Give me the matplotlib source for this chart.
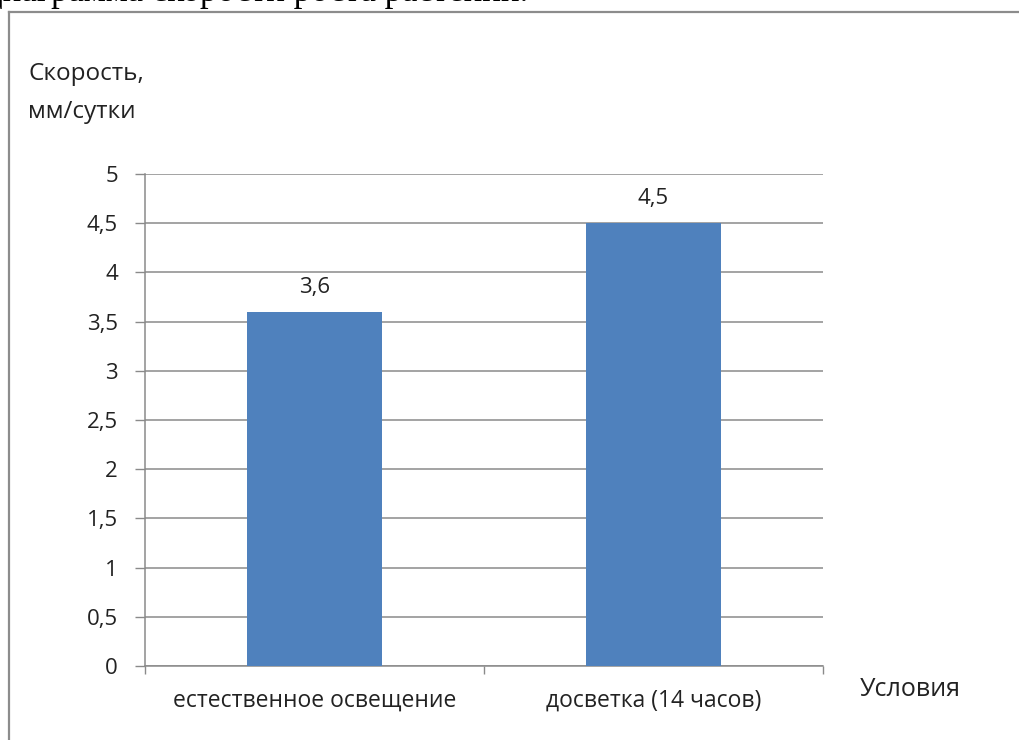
import matplotlib.pyplot as plt
from matplotlib.lines import Line2D

# growth speed of plants under two lighting conditions
conditions = ['естественное освещение', 'досветка (14 часов)']
speed = [3.6, 4.5]
yticks = [0, 0.5, 1, 1.5, 2, 2.5, 3, 3.5, 4, 4.5, 5]

plt.rcParams['font.family'] = ['Open Sans', 'DejaVu Sans']
txt = '#222222'
grid = '#8a8a8a'
bar_color = '#4f81bd'

W, H = 1019, 740
fig = plt.figure(figsize=(W / 100, H / 100), dpi=100)

# page heading, mostly off the top edge
fig.text(528 / W, 1 - 1 / H, 'Диаграмма скорости роста растений.',
         family=['Liberation Serif', 'DejaVu Serif'], fontsize=25,
         ha='right', va='baseline', color='black')

# frame around the chart
fig.add_artist(Line2D([8.5 / W, 8.5 / W], [0, 1 - 11.5 / H], transform=fig.transFigure,
                      color='#8c8c8c', lw=1.6))
fig.add_artist(Line2D([8.5 / W, 1], [1 - 11.5 / H, 1 - 11.5 / H], transform=fig.transFigure,
                      color='#8c8c8c', lw=1.6))

ax = fig.add_axes([145 / W, 74 / H, 678 / W, 492 / H])
x = list(range(len(conditions)))
bars = ax.bar(x, speed, width=0.4, color=bar_color, zorder=3)
ax.bar_label(bars, labels=[str(v).replace('.', ',') for v in speed],
             padding=10, fontsize=16, color=txt)

ax.set_xlim(-0.5, len(conditions) - 0.5)
ax.set_ylim(0, 5)
ax.set_yticks(yticks)
ax.set_yticklabels([('%g' % t).replace('.', ',') for t in yticks])
ax.yaxis.grid(True, color=grid, lw=1.1, zorder=0)
ax.tick_params(axis='y', length=7.5, width=1, color=grid, pad=12,
               labelsize=16, labelcolor=txt)

ax.set_xticks(x)
ax.set_xticklabels(conditions)
ax.set_xticks([-0.5, 0.5, 1.5], minor=True)
ax.tick_params(axis='x', which='major', length=0, pad=16, labelsize=16.5, labelcolor=txt)
ax.tick_params(axis='x', which='minor', length=5.5, width=1, color=grid)

for s in ['top', 'right']:
    ax.spines[s].set_visible(False)
for s in ['left', 'bottom']:
    ax.spines[s].set_color(grid)
    ax.spines[s].set_linewidth(1.1)

fig.text(28 / W, 1 - 62 / H, 'Скорость,\nмм/сутки', fontsize=17.5, color=txt,
         ha='left', va='top', linespacing=1.8)
fig.text(860 / W, 1 - 690 / H, 'Условия', fontsize=18, color=txt,
         ha='left', va='center')

fig.savefig('out.png', dpi=100)
